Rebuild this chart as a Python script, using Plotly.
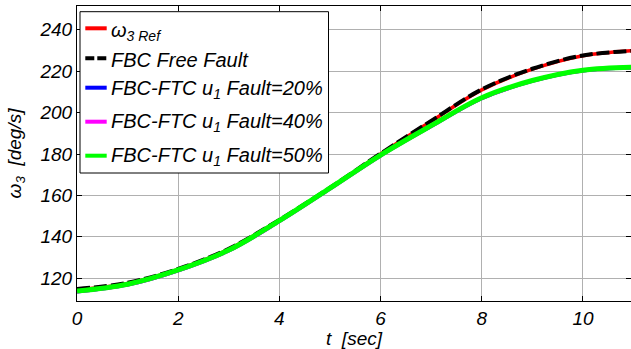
import plotly.graph_objects as go

t = [0, 1, 2, 3, 4, 5, 6, 7, 8, 9, 10, 11]
w3_ref = [114.5, 117.5, 124.3, 134.0, 148.0, 163.5, 180.0, 195.8, 211.0, 221.0, 227.5, 230.0]
fbc_free = [114.8, 117.8, 124.5, 134.2, 148.2, 163.7, 180.2, 196.0, 211.2, 221.2, 227.6, 229.8]
ftc_20 = [113.6, 116.9, 123.8, 133.4, 147.6, 163.3, 179.3, 193.5, 207.0, 215.3, 220.3, 221.8]
ftc_40 = [113.6, 116.9, 123.8, 133.4, 147.6, 163.3, 179.3, 193.5, 207.0, 215.3, 220.3, 221.8]
ftc_50 = [113.8, 117.1, 124.0, 133.6, 147.8, 163.5, 179.5, 193.7, 207.2, 215.5, 220.5, 222.0]

series_names = ["ω<sub>3 Ref</sub>", "FBC Free Fault",
                "FBC-FTC u<sub>1</sub> Fault=20%", "FBC-FTC u<sub>1</sub> Fault=40%",
                "FBC-FTC u<sub>1</sub> Fault=50%"]
series_colors = ["#ff0000", "#000000", "#0000ff", "#ff00ff", "#00ff00"]

x_ticks = [0, 2, 4, 6, 8, 10]
y_ticks = [120, 140, 160, 180, 200, 220, 240]

FONT = "Liberation Sans, Arial, sans-serif"
W, H = 631, 349
ML, MR, MT, MB = 77, 0, 6, 48
PW, PH = W - ML - MR, H - MT - MB


def px(xp):
    return (xp - ML) / PW


def py(yp):
    return 1 - (yp - MT) / PH


fig = go.Figure()
styles = [dict(width=3.5), dict(width=4, dash="13px,4px"), dict(width=4), dict(width=4), dict(width=5)]
for name, col, ys, st in zip(series_names, series_colors, [w3_ref, fbc_free, ftc_20, ftc_40, ftc_50], styles):
    fig.add_trace(go.Scatter(x=t, y=ys, mode="lines", name=name, showlegend=False,
                             line=dict(color=col, shape="spline", **st)))

axis_common = dict(showline=True, linecolor="black", linewidth=1, mirror="allticks",
                   ticks="inside", ticklen=5, tickcolor="black", automargin=False,
                   showgrid=True, gridcolor="#b0b0b0", gridwidth=1, zeroline=False,
                   tickfont=dict(family=FONT, size=19, color="black"))

fig.update_xaxes(range=[0, 10.95], tickvals=x_ticks, ticktext=[f"<i>{v}</i>" for v in x_ticks],
                 title=dict(text="<i>t  [sec]</i>", font=dict(family=FONT, size=19, color="black"), standoff=2),
                 **axis_common)
fig.update_yaxes(range=[109, 251.5], tickvals=y_ticks, ticktext=[f"<i>{v}</i>" for v in y_ticks],
                 title=dict(text="<i>ω<sub>3</sub>  [deg/s]</i>", font=dict(family=FONT, size=19, color="black"), standoff=12),
                 **axis_common)

# legend box (custom, MATLAB-like)
shapes = [dict(type="rect", xref="paper", yref="paper", x0=px(80), x1=px(328.5), y0=py(173), y1=py(11.7),
               line=dict(color="black", width=1), fillcolor="white", layer="above")]
annotations = []
line_y = [28.3, 58.3, 87.7, 121.7, 155.7]
text_y = [32.0, 60.0, 90.0, 123.0, 156.0]
for i, (name, col) in enumerate(zip(series_names, series_colors)):
    shapes.append(dict(type="line", xref="paper", yref="paper", x0=px(85.3), x1=px(106.7),
                       y0=py(line_y[i]), y1=py(line_y[i]), layer="above",
                       line=dict(color=col, width=4, dash=("9px,3px" if i == 1 else "solid"))))
    annotations.append(dict(xref="paper", yref="paper", x=px(109), y=py(text_y[i]), xanchor="left", yanchor="middle",
                            text=f"<i>{name}</i>", showarrow=False,
                            font=dict(family=FONT, size=20, color="black")))

fig.update_layout(
    width=W, height=H,
    margin=dict(l=ML, r=MR, t=MT, b=MB),
    paper_bgcolor="white", plot_bgcolor="white",
    font=dict(family=FONT, size=19, color="black"),
    showlegend=False,
    shapes=shapes, annotations=annotations,
)

fig.write_html("out.html", config={"displayModeBar": False},
               post_script="document.body.style.margin='0px';document.body.style.overflow='hidden';")
